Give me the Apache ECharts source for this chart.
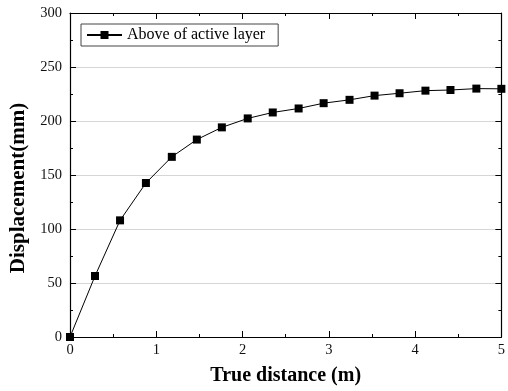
<!DOCTYPE html>
<html>
<head>
<meta charset="utf-8">
<script src="https://cdn.jsdelivr.net/npm/echarts@6/dist/echarts.min.js"></script>
<style>html,body{margin:0;padding:0;background:#fff}#c{width:508px;height:391px}</style>
</head>
<body>
<div id="c"></div>
<script>
const seriesName = 'Above of active layer';
const xValues = [0, 0.29, 0.58, 0.88, 1.18, 1.47, 1.76, 2.06, 2.35, 2.65, 2.94, 3.24, 3.53, 3.82, 4.12, 4.41, 4.71, 5.0];
const yValues = [0, 56.5, 108, 142.6, 166.8, 182.8, 194.1, 202.4, 207.9, 211.6, 216.5, 219.6, 223.5, 225.7, 228.1, 228.7, 230, 229.8];
const xTicks = { min: 0, max: 5, interval: 1 };
const yTicks = { min: 0, max: 300, interval: 50 };

const serif = '"Liberation Serif", "Times New Roman", serif';
const axisLine = { show: true, onZero: false, lineStyle: { color: '#000', width: 1.2 } };
const tick = { show: true, inside: true, length: 6, lineStyle: { color: '#000', width: 1 } };
const minor = { show: true, splitNumber: 2, length: 3, lineStyle: { color: '#000', width: 1 } };
const label = { fontFamily: serif, fontSize: 14.5, color: '#111' };

const chart = echarts.init(document.getElementById('c'), null, { renderer: 'canvas' });
chart.setOption({
  animation: false,
  backgroundColor: '#fff',
  grid: { left: 70, right: 6, top: 13, bottom: 52, containLabel: false },
  legend: {
    left: 81, top: 24,
    data: [seriesName],
    borderColor: '#444', borderWidth: 1,
    padding: [3, 13, 3, 5],
    itemWidth: 35, itemHeight: 10, itemGap: 5,
    textStyle: { fontFamily: serif, fontSize: 16, color: '#000' }
  },
  xAxis: [
    { type: 'value', position: 'bottom', min: xTicks.min, max: xTicks.max, interval: xTicks.interval,
      axisLine, axisTick: tick, minorTick: minor, splitLine: { show: false },
      axisLabel: Object.assign({ margin: 6 }, label),
      name: 'True distance (m)', nameLocation: 'middle', nameGap: 29,
      nameTextStyle: { fontFamily: serif, fontSize: 20, fontWeight: 'bold', color: '#000' } },
    { type: 'value', position: 'top', min: xTicks.min, max: xTicks.max, interval: xTicks.interval,
      axisLine, axisTick: tick, minorTick: minor, splitLine: { show: false },
      axisLabel: { show: false } }
  ],
  yAxis: [
    { type: 'value', position: 'left', min: yTicks.min, max: yTicks.max, interval: yTicks.interval,
      axisLine, axisTick: tick, minorTick: minor,
      splitLine: { show: true, lineStyle: { color: '#d6d6d6', width: 1 } },
      axisLabel: Object.assign({ margin: 8 }, label),
      name: 'Displacement(mm)', nameLocation: 'middle', nameGap: 40, nameRotate: 90,
      nameTextStyle: { fontFamily: serif, fontSize: 21, fontWeight: 'bold', color: '#000', padding: [0, 26, 0, 0] } },
    { type: 'value', position: 'right', min: yTicks.min, max: yTicks.max, interval: yTicks.interval,
      axisLine, axisTick: tick, minorTick: minor, splitLine: { show: false },
      axisLabel: { show: false } }
  ],
  series: [{
    name: seriesName,
    type: 'line',
    data: xValues.map((x, i) => [x, yValues[i]]),
    symbol: 'rect', symbolSize: 8,
    showAllSymbol: true,
    clip: false,
    itemStyle: { color: '#000', borderWidth: 0 },
    lineStyle: { color: '#000', width: 1 }
  }]
});
</script>
</body>
</html>
